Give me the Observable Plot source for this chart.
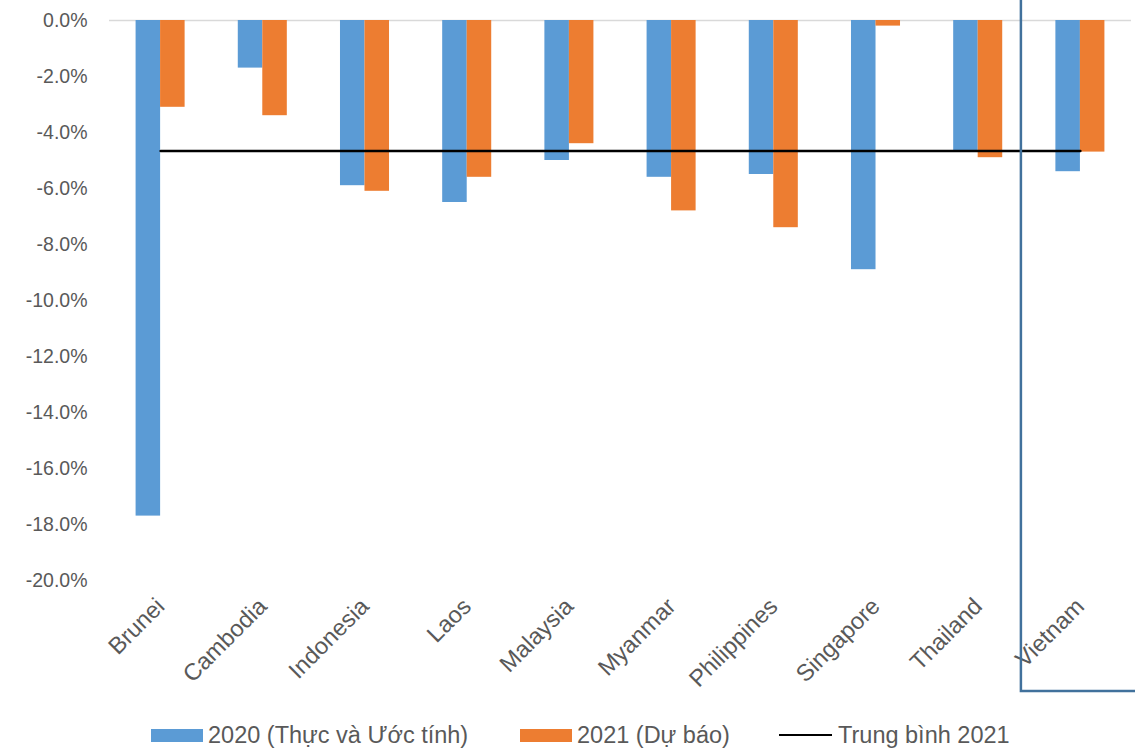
<!DOCTYPE html>
<html>
<head>
<meta charset="utf-8">
<script src="https://cdn.jsdelivr.net/npm/d3@7"></script>
<script src="https://cdn.jsdelivr.net/npm/@observablehq/plot@0.6"></script>
<style>
  html, body { margin: 0; padding: 0; background: #fff; }
  body { font-family: "Liberation Sans", Arial, sans-serif; color: #595959; width: 1135px; }
  #chart svg { display: block; overflow: visible; }
  .legend { position: relative; height: 43px; font-size: 23.5px; color: #595959; }
  .legend .item { position: absolute; top: 15px; height: 30px; display: flex; align-items: center; white-space: nowrap; }
  .legend .swatch { width: 52px; height: 13px; margin-right: 5px; }
  .legend .line { width: 53px; height: 0; border-top: 2.5px solid #000; margin-right: 6px; }
</style>
</head>
<body>
<div id="chart"></div>
<div class="legend" id="legend"></div>
<script>
// GDP growth by ASEAN economy (%)
const countries = ["Brunei", "Cambodia", "Indonesia", "Laos", "Malaysia", "Myanmar", "Philippines", "Singapore", "Thailand", "Vietnam"];
const growth2020 = [-17.7, -1.7, -5.9, -6.5, -5.0, -5.6, -5.5, -8.9, -4.7, -5.4];
const growth2021 = [-3.1, -3.4, -6.1, -5.6, -4.4, -6.8, -7.4, -0.2, -4.9, -4.7];
const yTicks = [0, -2, -4, -6, -8, -10, -12, -14, -16, -18, -20];
const seriesNames = ["2020 (Thực và Ước tính)", "2021 (Dự báo)", "Trung bình 2021"];
const seriesColors = ["#5b9bd5", "#ed7d31", "#000000"];

const rows2020 = countries.map((c, i) => ({country: c, value: growth2020[i]}));
const rows2021 = countries.map((c, i) => ({country: c, value: growth2021[i]}));
const avg2021 = d3.mean(growth2021);

const plot = Plot.plot({
  width: 1135,
  height: 705,
  marginTop: 20,
  marginBottom: 125,
  marginLeft: 109,
  marginRight: 4,
  style: {color: "#595959", fontFamily: "'Liberation Sans', Arial, sans-serif", background: "#fff"},
  x: {domain: countries, paddingInner: 0.76, paddingOuter: 0.38, align: 0.5, round: false, label: null},
  y: {domain: [-20, 0], label: null},
  marks: [
    Plot.ruleY([0], {stroke: "#d9d9d9", strokeWidth: 1.5}),
    Plot.barY(rows2020, {x: "country", y: "value", fill: seriesColors[0], dx: -12.25}),
    Plot.barY(rows2021, {x: "country", y: "value", fill: seriesColors[1], dx: 12.25}),
    Plot.lineY(countries, {x: d => d, y: () => avg2021, stroke: seriesColors[2], strokeWidth: 2.5}),
    Plot.axisY({ticks: yTicks, tickFormat: d => d.toFixed(1) + "%", tickSize: 0, tickPadding: 22, fontSize: 19.5, label: null}),
    Plot.axisX({tickRotate: -45, tickSize: 0, tickPadding: 22, fontSize: 23.5, label: null})
  ]
});
document.getElementById("chart").appendChild(plot);

// Highlight box around the Vietnam category
const xs = plot.scale("x");
const vx = xs.apply("Vietnam") + xs.bandwidth / 2;
d3.select(plot).append("rect")
  .attr("x", vx - 59)
  .attr("y", -10)
  .attr("width", 130)
  .attr("height", 701)
  .attr("fill", "none")
  .attr("stroke", "#41719c")
  .attr("stroke-width", 2.5);

// Legend
const legend = document.getElementById("legend");
const lefts = [151, 520, 779];
seriesNames.forEach((name, i) => {
  const item = document.createElement("div");
  item.className = "item";
  item.style.left = lefts[i] + "px";
  const key = document.createElement("div");
  if (i < 2) { key.className = "swatch"; key.style.background = seriesColors[i]; }
  else { key.className = "line"; }
  item.appendChild(key);
  const label = document.createElement("span");
  label.textContent = name;
  item.appendChild(label);
  legend.appendChild(item);
});
</script>
</body>
</html>
